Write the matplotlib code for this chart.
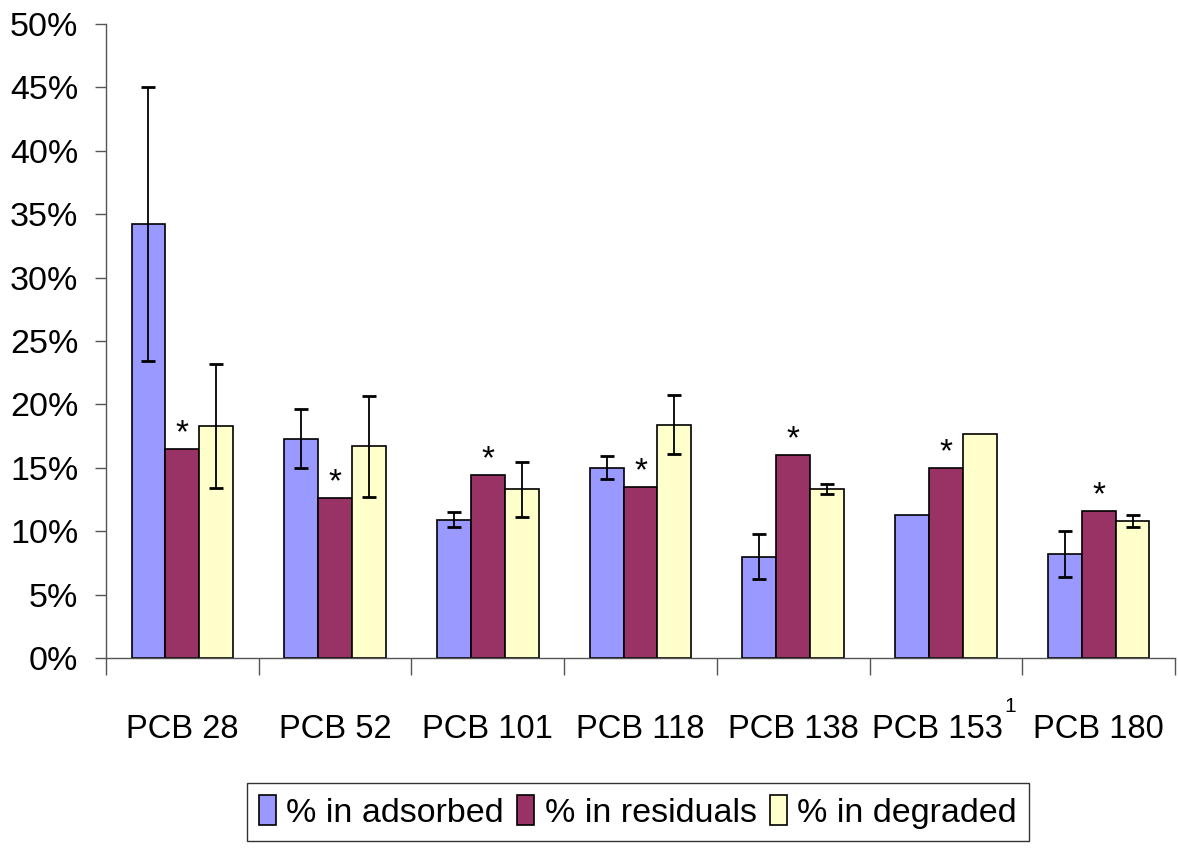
import numpy as np
import matplotlib.pyplot as plt
from matplotlib.transforms import ScaledTranslation

plt.rcParams['font.family'] = ['Liberation Sans', 'DejaVu Sans']

categories = ['PCB 28', 'PCB 52', 'PCB 101', 'PCB 118', 'PCB 138', 'PCB 153', 'PCB 180']
footnotes = ['', '', '', '', '', '1', '']
adsorbed = [34.2, 17.3, 10.9, 15.0, 8.0, 11.3, 8.2]
adsorbed_err = [10.8, 2.3, 0.6, 0.9, 1.8, 0, 1.8]
residuals = [16.5, 12.6, 14.4, 13.5, 16.0, 15.0, 11.6]
degraded = [18.3, 16.7, 13.3, 18.4, 13.3, 17.7, 10.8]
degraded_err = [4.9, 4.0, 2.15, 2.35, 0.4, 0, 0.5]
series_names = ['% in adsorbed', '% in residuals', '% in degraded']
colors = ['#9999FF', '#993366', '#FFFFCC']

x = np.arange(len(categories))
w = 0.222

fig = plt.figure(figsize=(11.78, 8.48), dpi=100)
ax = fig.add_axes([106/1178, 1-658/848, (1175-106)/1178, (658-24)/848])

err_kw = dict(ecolor='black', elinewidth=1.3, capsize=5, capthick=2)
ax.bar(x - w, adsorbed, w, yerr=[e if e > 0 else np.nan for e in adsorbed_err],
       color=colors[0], edgecolor='black', linewidth=1.2, label=series_names[0], error_kw=err_kw)
ax.bar(x, residuals, w, color=colors[1], edgecolor='black', linewidth=1.2, label=series_names[1])
ax.bar(x + w, degraded, w, yerr=[e if e > 0 else np.nan for e in degraded_err],
       color=colors[2], edgecolor='black', linewidth=1.2, label=series_names[2], error_kw=err_kw)

# significance markers over residual bars
for xi, v in zip(x, residuals):
    ax.annotate('*', (xi, v), xytext=(0, 0), textcoords='offset points',
                ha='center', va='bottom', fontsize=24)

ax.set_xlim(-0.5, len(categories) - 0.5)
ax.set_ylim(0, 50)
ax.set_yticks(np.arange(0, 51, 5))
ax.set_yticklabels([f'{v}%' for v in range(0, 51, 5)])
ax.set_xticks(x)
ax.set_xticklabels(categories)
ax.set_xticks(np.arange(-0.5, len(categories), 1), minor=True)
ax.tick_params(axis='x', which='major', length=0, pad=40, labelsize=23.5)
ax.tick_params(axis='x', which='minor', length=12, width=1, color='#555555')
ax.tick_params(axis='y', length=8, width=1, color='#555555', pad=12, labelsize=24.5)

# footnote marker on a category label; shift that label left so label+marker stay centred
for lab, fn in zip(ax.get_xticklabels(), footnotes):
    if fn:
        lab.set_transform(lab.get_transform() + ScaledTranslation(-6/72, 0, fig.dpi_scale_trans))
        ax.annotate(fn, xy=(1, 1), xycoords=lab, xytext=(1, -2), textcoords='offset points',
                    ha='left', va='bottom', fontsize=15)

for s in ['top', 'right']:
    ax.spines[s].set_visible(False)
for s in ['left', 'bottom']:
    ax.spines[s].set_color('#555555')
    ax.spines[s].set_linewidth(1)

fig.legend(loc='upper center', bbox_to_anchor=(638/1178, 1-783/848), ncol=3,
           fontsize=24.5, frameon=True, fancybox=False, edgecolor='black',
           handlelength=0.5, handleheight=1.0, handletextpad=0.3,
           columnspacing=0.4, borderpad=0.35, borderaxespad=0)

fig.savefig('out.png', dpi=100)
